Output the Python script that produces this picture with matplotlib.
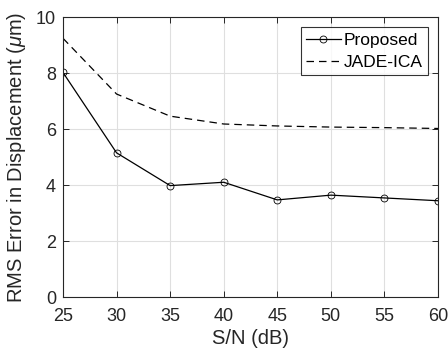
import matplotlib
matplotlib.use('Agg')
import matplotlib.pyplot as plt

snr = [25, 30, 35, 40, 45, 50, 55, 60]
proposed = [8.02, 5.15, 3.98, 4.10, 3.47, 3.64, 3.54, 3.44]
jade_ica = [9.24, 7.25, 6.46, 6.18, 6.11, 6.07, 6.05, 6.02]

plt.rcParams['font.family'] = ['Liberation Sans', 'DejaVu Sans']
plt.rcParams['mathtext.fontset'] = 'custom'
plt.rcParams['mathtext.it'] = 'Liberation Sans:italic'
plt.rcParams['mathtext.rm'] = 'Liberation Sans'

axcol = '#262626'

fig = plt.figure(figsize=(4.48, 3.52), dpi=100)
ax = fig.add_axes([0.1406, 0.156, 0.8371, 0.7957])

ax.plot(snr, proposed, color='black', lw=0.9, marker='o', ms=5,
        mfc='none', mec='black', mew=0.6, label='Proposed')
ax.plot(snr, jade_ica, color='black', lw=0.9, ls=(0, (6, 4)), label='JADE-ICA')

ax.set_xlim(25, 60)
ax.set_ylim(0, 10)
ax.set_xticks(snr)
ax.set_yticks([0, 2, 4, 6, 8, 10])
ax.grid(True, color='#dfdfdf', lw=0.8)
ax.set_axisbelow(True)

ax.tick_params(direction='in', top=True, right=True, length=4, width=0.7,
               colors=axcol, labelsize=13)
ax.tick_params(axis='x', pad=8)
ax.tick_params(axis='y', pad=5)
for s in ax.spines.values():
    s.set_color(axcol)
    s.set_linewidth(0.8)

ax.set_xlabel('S/N (dB)', fontsize=14.5, color=axcol, labelpad=3)
ax.set_ylabel(r'RMS Error in Displacement ($\mu$m)', fontsize=14.5, color=axcol, labelpad=6)

leg = ax.legend(loc='upper right', fontsize=12.5, frameon=True, fancybox=False,
                edgecolor='black', handlelength=2.0, handletextpad=0.15,
                borderpad=0.3, labelspacing=0.4, borderaxespad=0.6)
leg.get_frame().set_linewidth(0.8)

fig.savefig('out.png', dpi=100)
